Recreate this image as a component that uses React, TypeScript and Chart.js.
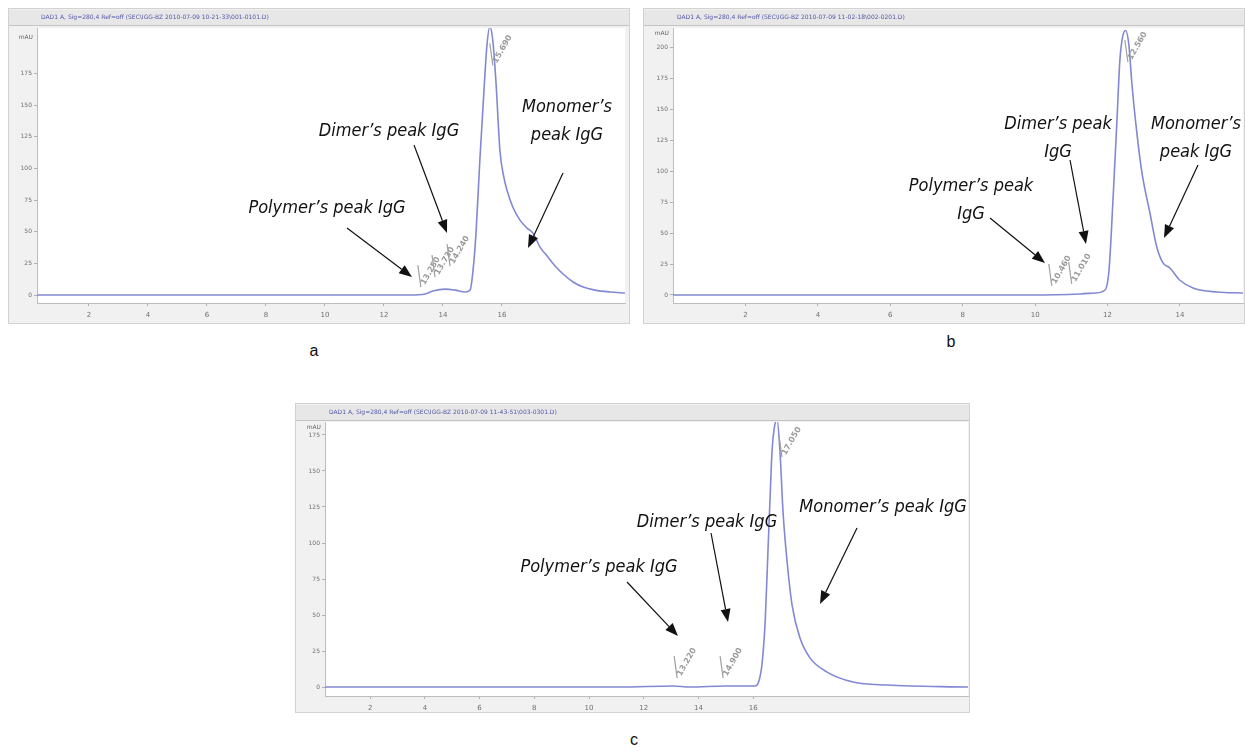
import React, { useEffect, useRef } from "react";
import { Chart, registerables } from "chart.js";

Chart.register(...registerables);

// ---------------- Panel a data ----------------
const timeA = [0.24, 12.54, 12.88, 13.39, 13.66, 14.07, 14.41, 14.75, 14.92, 15.02, 15.12, 15.25, 15.39, 15.49, 15.59, 15.69, 15.8, 15.93, 16.07, 16.17, 16.37, 16.61, 16.85, 17.05, 17.29, 17.53, 17.8, 18.07, 18.41, 18.75, 19.15, 19.66, 20.17];
const absA = [0, 0, 0, 0.8, 3.2, 4.7, 3.9, 2.4, 3.9, 19.7, 48.9, 106.5, 161.7, 197.3, 212, 201, 167, 114.4, 92.3, 82.8, 69.4, 59.2, 52.9, 48.9, 37.9, 30.8, 22.9, 16.6, 10.3, 6.3, 3.9, 2.4, 1.6];
const markTimeA = [13.25, 13.73, 14.24, 15.69];
const markAbsA = [6.3, 14.2, 22.9, 181.5];
const xTicksA = [2, 4, 6, 8, 10, 12, 14, 16];
const yTicksA = [0, 25, 50, 75, 100, 125, 150, 175];

// ---------------- Panel b data ----------------
const timeB = [0, 9.85, 11.24, 11.65, 11.93, 12.04, 12.15, 12.26, 12.34, 12.42, 12.5, 12.59, 12.67, 12.81, 12.95, 13.17, 13.36, 13.53, 13.72, 13.99, 14.36, 15.02, 15.74];
const absB = [0, 0, 0.8, 1.6, 4, 20, 77, 141.6, 190, 209.5, 214, 202, 171.5, 131, 98.7, 66.3, 38.8, 25.9, 21.8, 12.1, 5.7, 2.4, 1.6];
const markTimeB = [10.46, 11.01, 12.56];
const markAbsB = [7.3, 8.9, 188.5];
const xTicksB = [2, 4, 6, 8, 10, 12, 14];
const yTicksB = [0, 25, 50, 75, 100, 125, 150, 175, 200];

// ---------------- Panel c data ----------------
const timeC = [0.35, 11.14, 13.07, 13.69, 14.97, 15.7, 16.07, 16.22, 16.33, 16.44, 16.54, 16.62, 16.69, 16.77, 16.87, 16.98, 17.09, 17.24, 17.42, 17.71, 18.08, 18.7, 19.65, 20.9, 23.85];
const absC = [0, 0, 0.7, 0, 0.7, 0.7, 0.7, 4.9, 17.4, 46.5, 95, 133, 164.5, 179.7, 186, 163, 121.5, 86.8, 56.9, 34, 20.1, 10.4, 3.5, 1.4, 0];
const markTimeC = [13.22, 14.9, 17.05];
const markAbsC = [6.2, 6.2, 159.6];
const xTicksC = [2, 4, 6, 8, 10, 12, 14, 16];
const yTicksC = [0, 25, 50, 75, 100, 125, 150, 175];

const labelPolymer = "Polymer\u2019s peak IgG";
const labelDimer = "Dimer\u2019s peak IgG";
const labelMonomer = "Monomer\u2019s peak IgG";

type Note = { lines: string[]; x: number; y: number };
type Arrow = [number, number, number, number];

interface PanelProps {
  left: number;
  top: number;
  width: number;
  height: number;
  plot: { left: number; right: number; top: number; bottom: number };
  time: number[];
  abs: number[];
  xMin: number;
  xMax: number;
  yMin: number;
  yMax: number;
  xTicks: number[];
  yTicks: number[];
  markTime: number[];
  markAbs: number[];
  title: string;
  mauY: number;
  notes: Note[];
  arrows: Arrow[];
}

const NOTE_FONT = "italic 18px 'Liberation Sans Narrow', 'DejaVu Sans Condensed', 'Liberation Sans', sans-serif";

function drawArrow(ctx: CanvasRenderingContext2D, x1: number, y1: number, x2: number, y2: number) {
  const ang = Math.atan2(y2 - y1, x2 - x1);
  const L = 13;
  const W = 5;
  const bx = x2 - L * Math.cos(ang);
  const by = y2 - L * Math.sin(ang);
  ctx.beginPath();
  ctx.moveTo(x1, y1);
  ctx.lineTo(bx, by);
  ctx.stroke();
  ctx.beginPath();
  ctx.moveTo(x2, y2);
  ctx.lineTo(bx + W * Math.sin(ang), by - W * Math.cos(ang));
  ctx.lineTo(bx - W * Math.sin(ang), by + W * Math.cos(ang));
  ctx.closePath();
  ctx.fill();
}

const decoPlugin = {
  id: "panelDeco",
  beforeDraw(chart: any, _args: any, opts: any) {
    const { ctx, width, height, chartArea } = chart;
    ctx.save();
    ctx.fillStyle = "#f1f1f1";
    ctx.fillRect(0, 0, width, height);
    ctx.strokeStyle = "#d2d2d2";
    ctx.lineWidth = 1;
    ctx.strokeRect(0.5, 0.5, width - 1, height - 1);
    // title bar
    ctx.fillStyle = "#e7e7e7";
    ctx.fillRect(1, 2, width - 2, 15);
    ctx.strokeStyle = "#c4c4c4";
    ctx.beginPath();
    ctx.moveTo(1, 17.5);
    ctx.lineTo(width - 1, 17.5);
    ctx.stroke();
    ctx.fillStyle = "#5358a8";
    ctx.font = "6px 'DejaVu Sans', sans-serif";
    ctx.textBaseline = "middle";
    ctx.fillText(opts.title, chartArea.left + 4, 9.5);
    // plot area
    ctx.fillStyle = "#ffffff";
    ctx.fillRect(chartArea.left, chartArea.top, chartArea.right - chartArea.left, chartArea.bottom - chartArea.top);
    ctx.restore();
  },
  afterDraw(chart: any, _args: any, opts: any) {
    const { ctx, chartArea, scales } = chart;
    const xs = scales.x;
    const ys = scales.y;
    ctx.save();
    // mAU label
    ctx.fillStyle = "#666";
    ctx.font = "6px 'DejaVu Sans', sans-serif";
    ctx.textAlign = "right";
    ctx.textBaseline = "middle";
    ctx.fillText("mAU", chartArea.left - 4, opts.mauY - opts.oy);
    // retention-time markers
    const times: number[] = opts.markTime;
    const vals: number[] = opts.markAbs;
    ctx.strokeStyle = "#a0a0a0";
    ctx.fillStyle = "#9a9a9a";
    ctx.lineWidth = 1.2;
    times.forEach((t, i) => {
      const px = xs.getPixelForValue(t);
      const py = ys.getPixelForValue(vals[i]);
      ctx.beginPath();
      ctx.moveTo(px, py);
      ctx.lineTo(px - 3, py - 22);
      ctx.stroke();
      ctx.save();
      ctx.translate(px + 1, py - 1);
      ctx.rotate((-60 * Math.PI) / 180);
      ctx.font = "bold 8px 'DejaVu Sans', sans-serif";
      ctx.textAlign = "left";
      ctx.textBaseline = "middle";
      ctx.fillText(t.toFixed(3), 2, 0);
      ctx.restore();
    });
    // annotations
    ctx.fillStyle = "#111";
    ctx.strokeStyle = "#111";
    ctx.lineWidth = 1.2;
    ctx.font = NOTE_FONT;
    ctx.textAlign = "center";
    ctx.textBaseline = "middle";
    (opts.notes as Note[]).forEach((n) => {
      n.lines.forEach((ln, k) => {
        ctx.fillText(ln, n.x - opts.ox, n.y - opts.oy + k * 28);
      });
    });
    (opts.arrows as Arrow[]).forEach((a) => {
      drawArrow(ctx, a[0] - opts.ox, a[1] - opts.oy, a[2] - opts.ox, a[3] - opts.oy);
    });
    ctx.restore();
  },
};

function ChromPanel(p: PanelProps) {
  const ref = useRef<HTMLCanvasElement | null>(null);
  useEffect(() => {
    if (!ref.current) return;
    const yAxisW = p.plot.left - p.left;
    const xAxisH = p.top + p.height - p.plot.bottom;
    const chart = new Chart(ref.current, {
      type: "line",
      data: {
        datasets: [
          {
            data: p.time.map((t, i) => ({ x: t, y: p.abs[i] })),
            borderColor: "#8288d4",
            borderWidth: 1.6,
            pointRadius: 0,
            cubicInterpolationMode: "monotone",
            fill: false,
          },
        ],
      },
      options: {
        animation: false,
        responsive: false,
        devicePixelRatio: 1,
        layout: {
          padding: {
            left: 0,
            top: p.plot.top - p.top,
            right: p.left + p.width - p.plot.right,
            bottom: 0,
          },
        },
        plugins: {
          legend: { display: false },
          tooltip: { enabled: false },
          title: { display: false },
          panelDeco: {
            title: p.title,
            mauY: p.mauY,
            ox: p.left,
            oy: p.top,
            markTime: p.markTime,
            markAbs: p.markAbs,
            notes: p.notes,
            arrows: p.arrows,
          },
        } as any,
        scales: {
          x: {
            type: "linear",
            min: p.xMin,
            max: p.xMax,
            afterBuildTicks: (s: any) => {
              s.ticks = p.xTicks.map((v) => ({ value: v }));
            },
            afterFit: (s: any) => {
              s.height = xAxisH;
            },
            ticks: {
              autoSkip: false,
              maxRotation: 0,
              color: "#707070",
              padding: 5,
              font: { size: 7, family: "'DejaVu Sans', sans-serif" },
            },
            grid: { drawOnChartArea: false, tickLength: 3, color: "#b0b0b0" },
            border: { color: "#bdbdbd" },
          },
          y: {
            type: "linear",
            min: p.yMin,
            max: p.yMax,
            afterBuildTicks: (s: any) => {
              s.ticks = p.yTicks.map((v) => ({ value: v }));
            },
            afterFit: (s: any) => {
              s.width = yAxisW;
            },
            ticks: {
              color: "#707070",
              padding: 2,
              font: { size: 6, family: "'DejaVu Sans', sans-serif" },
            },
            grid: { drawOnChartArea: false, tickLength: 3, color: "#b0b0b0" },
            border: { color: "#bdbdbd" },
          },
        },
      },
      plugins: [decoPlugin as any],
    });
    return () => chart.destroy();
  }, []);
  return (
    <canvas
      ref={ref}
      width={p.width}
      height={p.height}
      style={{ position: "absolute", left: p.left, top: p.top, width: p.width, height: p.height }}
    />
  );
}

const panelLabelStyle: React.CSSProperties = {
  position: "absolute",
  fontFamily: "'Liberation Sans Narrow', 'Liberation Sans', Arial, sans-serif",
  fontSize: 16,
  color: "#111",
  transform: "translate(-50%, -50%)",
};

export default function App() {
  return (
    <div style={{ position: "absolute", left: 0, top: 0, width: 1245, height: 751, background: "#fff", overflow: "hidden" }}>
      <ChromPanel
        left={8}
        top={8}
        width={622}
        height={316}
        plot={{ left: 37, right: 625, top: 28, bottom: 303 }}
        time={timeA}
        abs={absA}
        xMin={0.24}
        xMax={20.17}
        yMin={-6.3}
        yMax={211}
        xTicks={xTicksA}
        yTicks={yTicksA}
        markTime={markTimeA}
        markAbs={markAbsA}
        title={"DAD1 A, Sig=280,4 Ref=off (SEC\\IGG-BZ 2010-07-09 10-21-33\\001-0101.D)"}
        mauY={37}
        notes={[
          { lines: [labelDimer], x: 389, y: 131 },
          { lines: [labelPolymer], x: 327, y: 208 },
          { lines: ["Monomer\u2019s", "peak IgG"], x: 567, y: 107 },
        ]}
        arrows={[
          [414, 145, 447, 233],
          [347, 228, 412, 277],
          [563, 173, 528, 248],
        ]}
      />
      <ChromPanel
        left={643}
        top={8}
        width={602}
        height={316}
        plot={{ left: 673, right: 1243, top: 28, bottom: 303 }}
        time={timeB}
        abs={absB}
        xMin={0}
        xMax={15.74}
        yMin={-6.5}
        yMax={216}
        xTicks={xTicksB}
        yTicks={yTicksB}
        markTime={markTimeB}
        markAbs={markAbsB}
        title={"DAD1 A, Sig=280,4 Ref=off (SEC\\IGG-BZ 2010-07-09 11-02-18\\002-0201.D)"}
        mauY={33}
        notes={[
          { lines: ["Dimer\u2019s peak", "IgG"], x: 1058, y: 124 },
          { lines: ["Polymer\u2019s peak", "IgG"], x: 971, y: 186 },
          { lines: ["Monomer\u2019s", "peak IgG"], x: 1196, y: 124 },
        ]}
        arrows={[
          [990, 218, 1045, 263],
          [1070, 160, 1086, 244],
          [1198, 165, 1164, 238],
        ]}
      />
      <ChromPanel
        left={295}
        top={403}
        width={675}
        height={310}
        plot={{ left: 325, right: 968, top: 422, bottom: 696 }}
        time={timeC}
        abs={absC}
        xMin={0.35}
        xMax={23.85}
        yMin={-6.2}
        yMax={184}
        xTicks={xTicksC}
        yTicks={yTicksC}
        markTime={markTimeC}
        markAbs={markAbsC}
        title={"DAD1 A, Sig=280,4 Ref=off (SEC\\IGG-BZ 2010-07-09 11-43-51\\003-0301.D)"}
        mauY={427}
        notes={[
          { lines: [labelDimer], x: 707, y: 522 },
          { lines: [labelPolymer], x: 599, y: 567 },
          { lines: [labelMonomer], x: 883, y: 507 },
        ]}
        arrows={[
          [627, 582, 678, 636],
          [711, 533, 728, 622],
          [857, 528, 820, 604],
        ]}
      />
      <div style={{ ...panelLabelStyle, left: 314, top: 351 }}>a</div>
      <div style={{ ...panelLabelStyle, left: 951, top: 342 }}>b</div>
      <div style={{ ...panelLabelStyle, left: 634, top: 740 }}>c</div>
    </div>
  );
}
